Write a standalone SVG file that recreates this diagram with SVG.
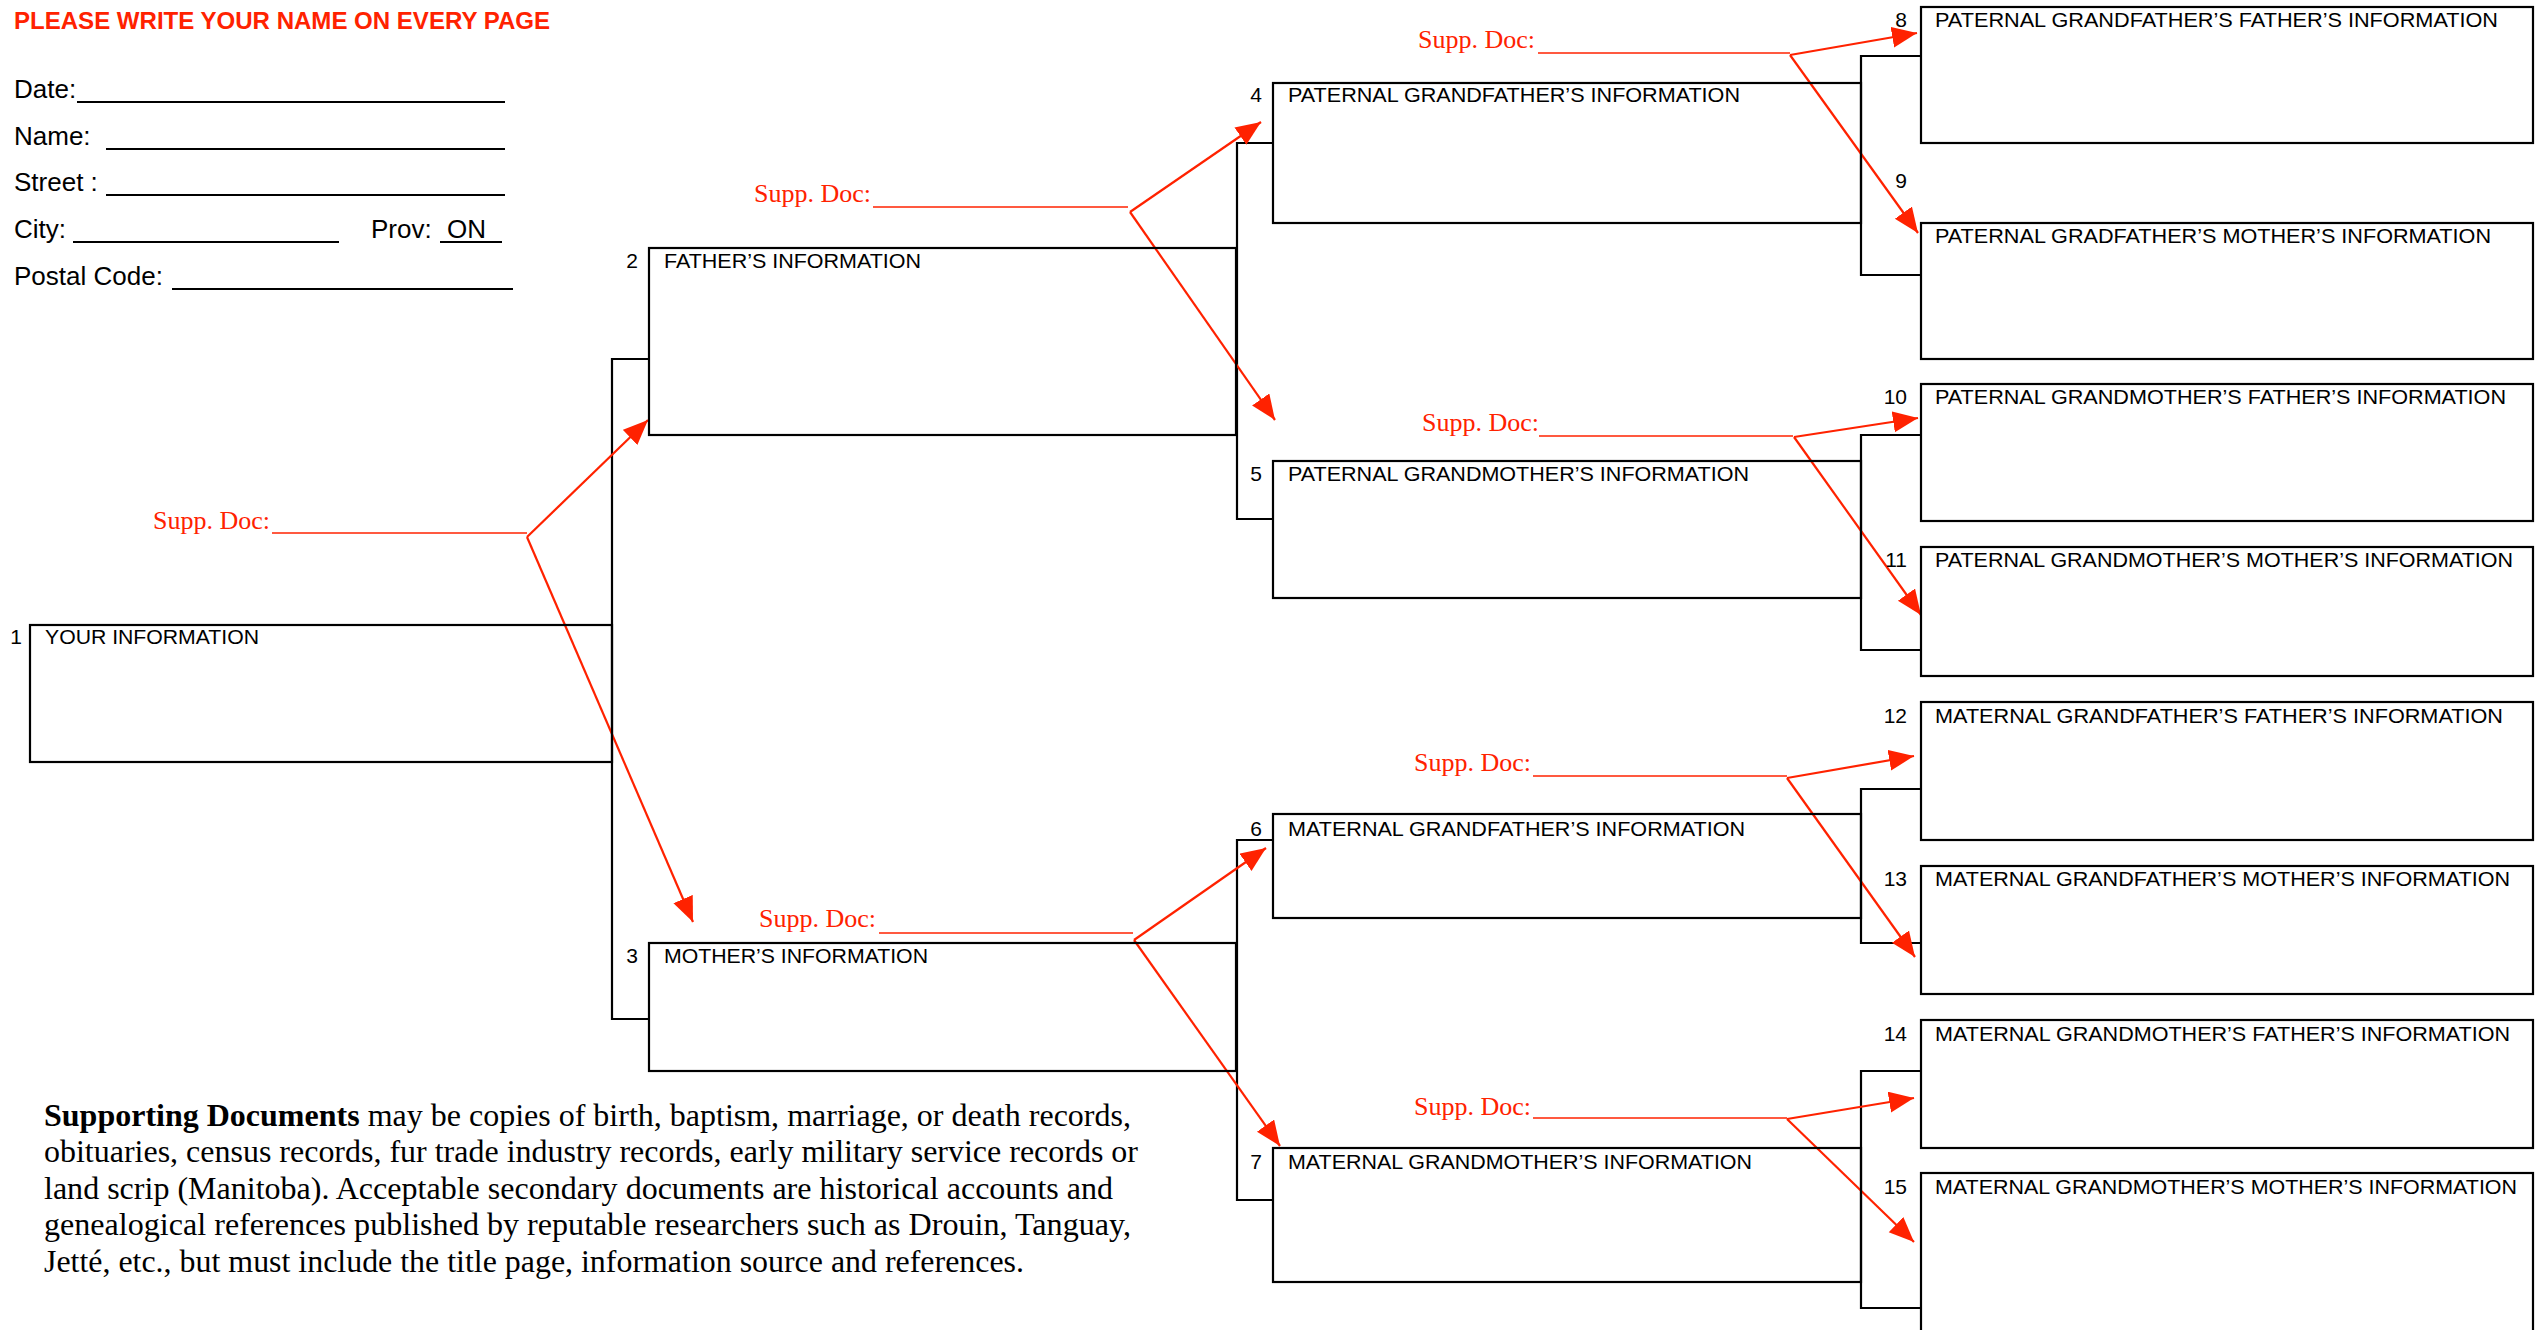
<svg xmlns="http://www.w3.org/2000/svg" width="2545" height="1330" viewBox="0 0 2545 1330">
<style>
.bg{fill:#ffffff}
.box{fill:none;stroke:#000;stroke-width:2.2}
.br{fill:none;stroke:#000;stroke-width:2.2}
.num{font-family:"Liberation Sans",Arial,sans-serif;font-size:21px;fill:#000;text-anchor:end}
.lbl{font-family:"Liberation Sans",Arial,sans-serif;font-size:21px;fill:#000}
.form{font-family:"Liberation Sans",Arial,sans-serif;font-size:26px;fill:#000}
.uline{stroke:#000;stroke-width:2}
.head{font-family:"Liberation Sans",Arial,sans-serif;font-size:24px;font-weight:bold;fill:#ff2200}
.supp{font-family:"Liberation Serif","Times New Roman",serif;font-size:26px;fill:#ff2200}
.suppl{stroke:#ff2200;stroke-width:1.6}
.arr{fill:none;stroke:#ff2200;stroke-width:2.2;marker-end:url(#ah)}
.para{font-family:"Liberation Serif","Times New Roman",serif;font-size:31px;fill:#000}
</style>
<defs>
<marker id="ah" markerUnits="userSpaceOnUse" markerWidth="28" markerHeight="24" refX="25" refY="10.5" orient="auto">
<path d="M0,0 L25,10.5 L0,21 z" fill="#ff2200"/>
</marker>
</defs>
<rect class="bg" x="0" y="0" width="2545" height="1330"/>

<g id="header">
<text class="head" x="14" y="29" textLength="536" lengthAdjust="spacingAndGlyphs">PLEASE WRITE YOUR NAME ON EVERY PAGE</text>
<text class="form" x="14" y="98">Date:</text>
<line class="uline" x1="77" y1="102" x2="505" y2="102"/>
<text class="form" x="14" y="145">Name:</text>
<line class="uline" x1="106" y1="149" x2="505" y2="149"/>
<text class="form" x="14" y="191">Street :</text>
<line class="uline" x1="106" y1="195" x2="505" y2="195"/>
<text class="form" x="14" y="238">City:</text>
<line class="uline" x1="73" y1="242" x2="339" y2="242"/>
<text class="form" x="371" y="238">Prov:</text>
<text class="form" x="447" y="238">ON</text>
<line class="uline" x1="440" y1="242" x2="502" y2="242"/>
<text class="form" x="14" y="285">Postal Code:</text>
<line class="uline" x1="172" y1="289" x2="513" y2="289"/>
</g>

<g id="connectors">
<path class="br" d="M649,359 H612 V1019 H649"/>
<path class="br" d="M1273,143 H1237 V519 H1273"/>
<path class="br" d="M1273,840 H1237 V1200 H1273"/>
<path class="br" d="M1921,56 H1861 V275 H1921"/>
<path class="br" d="M1921,435 H1861 V650 H1921"/>
<path class="br" d="M1921,789 H1861 V943 H1921"/>
<path class="br" d="M1921,1071 H1861 V1308 H1921"/>
<line class="arr" x1="527" y1="537" x2="648" y2="420"/>
<line class="arr" x1="527" y1="537" x2="693" y2="922"/>
<line class="arr" x1="1130" y1="212" x2="1261" y2="122"/>
<line class="arr" x1="1130" y1="212" x2="1275" y2="420"/>
<line class="arr" x1="1134" y1="940" x2="1266" y2="848"/>
<line class="arr" x1="1134" y1="940" x2="1280" y2="1146"/>
<line class="arr" x1="1790" y1="55" x2="1917" y2="33"/>
<line class="arr" x1="1790" y1="55" x2="1918" y2="233"/>
<line class="arr" x1="1794" y1="437" x2="1918" y2="418"/>
<line class="arr" x1="1794" y1="437" x2="1921" y2="615"/>
<line class="arr" x1="1787" y1="778" x2="1914" y2="756"/>
<line class="arr" x1="1787" y1="778" x2="1915" y2="957"/>
<line class="arr" x1="1787" y1="1119" x2="1914" y2="1098"/>
<line class="arr" x1="1787" y1="1119" x2="1914" y2="1242"/>
</g>

<g id="supp-doc-1"><text class="supp" x="153" y="529">Supp. Doc:</text><line class="suppl" x1="272" y1="533" x2="527" y2="533"/></g>
<g id="supp-doc-2"><text class="supp" x="754" y="202">Supp. Doc:</text><line class="suppl" x1="873" y1="207" x2="1128" y2="207"/></g>
<g id="supp-doc-3"><text class="supp" x="759" y="927">Supp. Doc:</text><line class="suppl" x1="879" y1="933" x2="1133" y2="933"/></g>
<g id="supp-doc-4"><text class="supp" x="1418" y="48">Supp. Doc:</text><line class="suppl" x1="1538" y1="53" x2="1790" y2="53"/></g>
<g id="supp-doc-5"><text class="supp" x="1422" y="431">Supp. Doc:</text><line class="suppl" x1="1539" y1="436" x2="1793" y2="436"/></g>
<g id="supp-doc-6"><text class="supp" x="1414" y="771">Supp. Doc:</text><line class="suppl" x1="1533" y1="776" x2="1787" y2="776"/></g>
<g id="supp-doc-7"><text class="supp" x="1414" y="1115">Supp. Doc:</text><line class="suppl" x1="1533" y1="1118" x2="1787" y2="1118"/></g>

<g id="node-1"><rect class="box" x="30" y="625" width="582" height="137"/><text class="num" x="22" y="644">1</text><text class="lbl" x="45" y="644" textLength="214" lengthAdjust="spacingAndGlyphs">YOUR INFORMATION</text></g>
<g id="node-2"><rect class="box" x="649" y="248" width="587" height="187"/><text class="num" x="638" y="268">2</text><text class="lbl" x="664" y="268" textLength="257" lengthAdjust="spacingAndGlyphs">FATHER’S INFORMATION</text></g>
<g id="node-3"><rect class="box" x="649" y="943" width="587" height="128"/><text class="num" x="638" y="963">3</text><text class="lbl" x="664" y="963" textLength="264" lengthAdjust="spacingAndGlyphs">MOTHER’S INFORMATION</text></g>
<g id="node-4"><rect class="box" x="1273" y="83" width="588" height="140"/><text class="num" x="1262" y="102">4</text><text class="lbl" x="1288" y="102" textLength="452" lengthAdjust="spacingAndGlyphs">PATERNAL GRANDFATHER’S INFORMATION</text></g>
<g id="node-5"><rect class="box" x="1273" y="461" width="588" height="137"/><text class="num" x="1262" y="481">5</text><text class="lbl" x="1288" y="481" textLength="461" lengthAdjust="spacingAndGlyphs">PATERNAL GRANDMOTHER’S INFORMATION</text></g>
<g id="node-6"><rect class="box" x="1273" y="814" width="588" height="104"/><text class="num" x="1262" y="836">6</text><text class="lbl" x="1288" y="836" textLength="457" lengthAdjust="spacingAndGlyphs">MATERNAL GRANDFATHER’S INFORMATION</text></g>
<g id="node-7"><rect class="box" x="1273" y="1148" width="588" height="134"/><text class="num" x="1262" y="1169">7</text><text class="lbl" x="1288" y="1169" textLength="464" lengthAdjust="spacingAndGlyphs">MATERNAL GRANDMOTHER’S INFORMATION</text></g>
<g id="node-8"><rect class="box" x="1921" y="7" width="612" height="136"/><text class="num" x="1907" y="27">8</text><text class="lbl" x="1935" y="27" textLength="563" lengthAdjust="spacingAndGlyphs">PATERNAL GRANDFATHER’S FATHER’S INFORMATION</text></g>
<g id="node-9"><rect class="box" x="1921" y="223" width="612" height="136"/><text class="num" x="1907" y="188">9</text><text class="lbl" x="1935" y="243" textLength="556" lengthAdjust="spacingAndGlyphs">PATERNAL GRADFATHER’S MOTHER’S INFORMATION</text></g>
<g id="node-10"><rect class="box" x="1921" y="384" width="612" height="137"/><text class="num" x="1907" y="404">10</text><text class="lbl" x="1935" y="404" textLength="571" lengthAdjust="spacingAndGlyphs">PATERNAL GRANDMOTHER’S FATHER’S INFORMATION</text></g>
<g id="node-11"><rect class="box" x="1921" y="547" width="612" height="129"/><text class="num" x="1907" y="567">11</text><text class="lbl" x="1935" y="567" textLength="578" lengthAdjust="spacingAndGlyphs">PATERNAL GRANDMOTHER’S MOTHER’S INFORMATION</text></g>
<g id="node-12"><rect class="box" x="1921" y="702" width="612" height="138"/><text class="num" x="1907" y="723">12</text><text class="lbl" x="1935" y="723" textLength="568" lengthAdjust="spacingAndGlyphs">MATERNAL GRANDFATHER’S FATHER’S INFORMATION</text></g>
<g id="node-13"><rect class="box" x="1921" y="866" width="612" height="128"/><text class="num" x="1907" y="886">13</text><text class="lbl" x="1935" y="886" textLength="575" lengthAdjust="spacingAndGlyphs">MATERNAL GRANDFATHER’S MOTHER’S INFORMATION</text></g>
<g id="node-14"><rect class="box" x="1921" y="1020" width="612" height="128"/><text class="num" x="1907" y="1041">14</text><text class="lbl" x="1935" y="1041" textLength="575" lengthAdjust="spacingAndGlyphs">MATERNAL GRANDMOTHER’S FATHER’S INFORMATION</text></g>
<g id="node-15"><rect class="box" x="1921" y="1173" width="612" height="175"/><text class="num" x="1907" y="1194">15</text><text class="lbl" x="1935" y="1194" textLength="582" lengthAdjust="spacingAndGlyphs">MATERNAL GRANDMOTHER’S MOTHER’S INFORMATION</text></g>

<g id="note">
<text class="para" x="44" y="1126" textLength="1087" lengthAdjust="spacingAndGlyphs"><tspan font-weight="bold">Supporting Documents</tspan> may be copies of birth, baptism, marriage, or death records,</text>
<text class="para" x="44" y="1162" textLength="1094" lengthAdjust="spacingAndGlyphs">obituaries, census records, fur trade industry records, early military service records or</text>
<text class="para" x="44" y="1199" textLength="1069" lengthAdjust="spacingAndGlyphs">land scrip (Manitoba). Acceptable secondary documents are historical accounts and</text>
<text class="para" x="44" y="1235" textLength="1087" lengthAdjust="spacingAndGlyphs">genealogical references published by reputable researchers such as Drouin, Tanguay,</text>
<text class="para" x="44" y="1272" textLength="980" lengthAdjust="spacingAndGlyphs">Jetté, etc., but must include the title page, information source and references.</text>
</g>
</svg>
